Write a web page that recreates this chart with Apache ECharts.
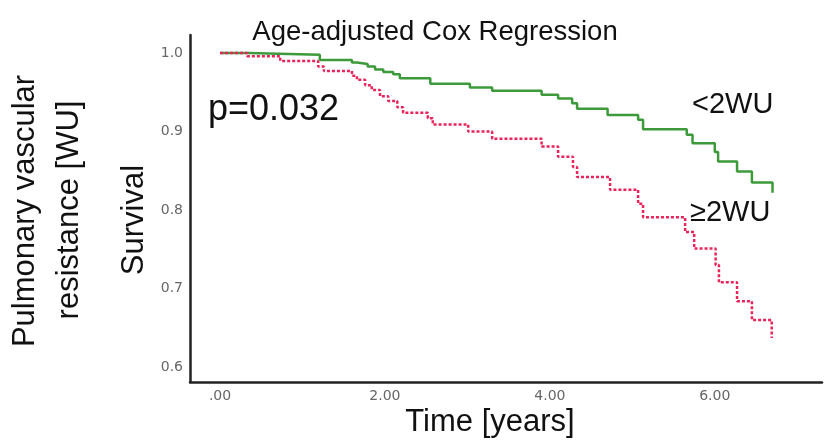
<!DOCTYPE html>
<html>
<head>
<meta charset="utf-8">
<script src="https://cdn.jsdelivr.net/npm/echarts@6/dist/echarts.min.js"></script>
<style>html,body{margin:0;padding:0;background:#fff;}#c{width:827px;height:441px;}</style>
</head>
<body>
<div id="c"></div>
<script>
// Data (Kaplan-Meier style step curves)
const greenTimes = [0, 0.34, 1.21, 1.60, 1.66, 1.79, 1.88, 1.98, 2.10, 2.18, 2.55, 3.03, 3.30, 3.90, 4.10, 4.27, 4.33, 4.70, 5.07, 5.13, 5.66, 5.73, 6.00, 6.04, 6.27, 6.45, 6.70];
const greenSurv  = [1.0, 0.998, 0.991, 0.988, 0.986, 0.983, 0.979, 0.976, 0.973, 0.968, 0.961, 0.956, 0.952, 0.947, 0.942, 0.936, 0.929, 0.921, 0.915, 0.903, 0.896, 0.885, 0.874, 0.862, 0.849, 0.835, 0.822];
const redTimes = [0, 0.33, 0.73, 1.19, 1.26, 1.60, 1.66, 1.76, 1.84, 1.94, 2.04, 2.15, 2.22, 2.52, 2.58, 3.01, 3.30, 3.90, 4.10, 4.28, 4.33, 4.73, 5.07, 5.13, 5.64, 5.75, 6.01, 6.05, 6.27, 6.45, 6.69];
const redSurv  = [1.0, 0.996, 0.990, 0.983, 0.977, 0.971, 0.966, 0.959, 0.953, 0.945, 0.939, 0.931, 0.924, 0.917, 0.909, 0.900, 0.891, 0.881, 0.868, 0.855, 0.842, 0.826, 0.808, 0.791, 0.772, 0.751, 0.730, 0.708, 0.684, 0.660, 0.637];
const seriesNames = ['<2WU', '≥2WU'];
const xTickValues = [0, 2, 4, 6];
const xTickLabels = ['.00', '2.00', '4.00', '6.00'];
const yTickValues = [0.6, 0.7, 0.8, 0.9, 1.0];
const yTickLabels = ['0.6', '0.7', '0.8', '0.9', '1.0'];
const titleText = 'Age-adjusted Cox Regression';
const pText = 'p=0.032';

const FONT = '"Liberation Sans", Arial, Helvetica, sans-serif';
const zip = (a, b) => a.map((t, i) => [t, b[i]]);

const chart = echarts.init(document.getElementById('c'), null, {renderer: 'canvas'});
chart.setOption({
  animation: false,
  backgroundColor: '#fff',
  title: {
    text: titleText, left: 430, top: 27, textAlign: 'center', textVerticalAlign: 'middle',
    textStyle: {fontFamily: FONT, fontSize: 27.5, fontWeight: 'normal', color: '#111'}
  },
  grid: {left: 190, right: 5, top: 35, bottom: 59, containLabel: false},
  xAxis: {
    type: 'value', min: -0.364, max: 7.3,
    axisLine: {show: true, onZero: false, lineStyle: {color: '#222', width: 2.5}},
    axisTick: {show: false},
    splitLine: {show: false},
    axisLabel: {
      customValues: xTickValues, margin: 7,
      fontFamily: '"DejaVu Sans", sans-serif', fontSize: 14, color: '#666',
      formatter: v => xTickLabels[xTickValues.indexOf(v)] ?? ''
    }
  },
  yAxis: {
    type: 'value', min: 0.581, max: 1.023,
    axisLine: {show: true, onZero: false, lineStyle: {color: '#222', width: 2.5}},
    axisTick: {show: false},
    splitLine: {show: false},
    axisLabel: {
      customValues: yTickValues, margin: 7,
      fontFamily: '"DejaVu Sans", sans-serif', fontSize: 14, color: '#666',
      formatter: v => yTickLabels[yTickValues.findIndex(t => Math.abs(t - v) < 1e-6)] ?? ''
    }
  },
  series: [
    {name: seriesNames[0], type: 'line', step: 'end', showSymbol: false, symbol: 'none',
     data: zip(greenTimes, greenSurv), lineStyle: {color: '#3d9a3a', width: 2.5}, z: 2},
    {name: seriesNames[1], type: 'line', step: 'end', showSymbol: false, symbol: 'none',
     data: zip(redTimes, redSurv), lineStyle: {color: '#e8245a', width: 2.5, type: [3, 2]}, z: 3}
  ],
  graphic: [
    {type: 'text', left: 208, top: 110 - 18, style: {text: pText, font: '36px ' + FONT, fill: '#111'}},
    {type: 'text', x: 692, y: 105, style: {text: seriesNames[0], font: '29px ' + FONT, fill: '#111', verticalAlign: 'middle'}},
    {type: 'text', x: 690, y: 213, style: {text: seriesNames[1], font: '29px ' + FONT, fill: '#111', verticalAlign: 'middle'}},
    {type: 'text', x: 490, y: 422, style: {text: 'Time [years]', font: '31px ' + FONT, fill: '#111', align: 'center', verticalAlign: 'middle'}},
    {type: 'text', x: 25, y: 211, rotation: Math.PI / 2, style: {text: 'Pulmonary vascular', font: '31px ' + FONT, fill: '#111', align: 'center', verticalAlign: 'middle'}},
    {type: 'text', x: 69, y: 210, rotation: Math.PI / 2, style: {text: 'resistance [WU]', font: '31px ' + FONT, fill: '#111', align: 'center', verticalAlign: 'middle'}},
    {type: 'text', x: 134, y: 220, rotation: Math.PI / 2, style: {text: 'Survival', font: '31px ' + FONT, fill: '#111', align: 'center', verticalAlign: 'middle'}}
  ]
});
</script>
</body>
</html>
